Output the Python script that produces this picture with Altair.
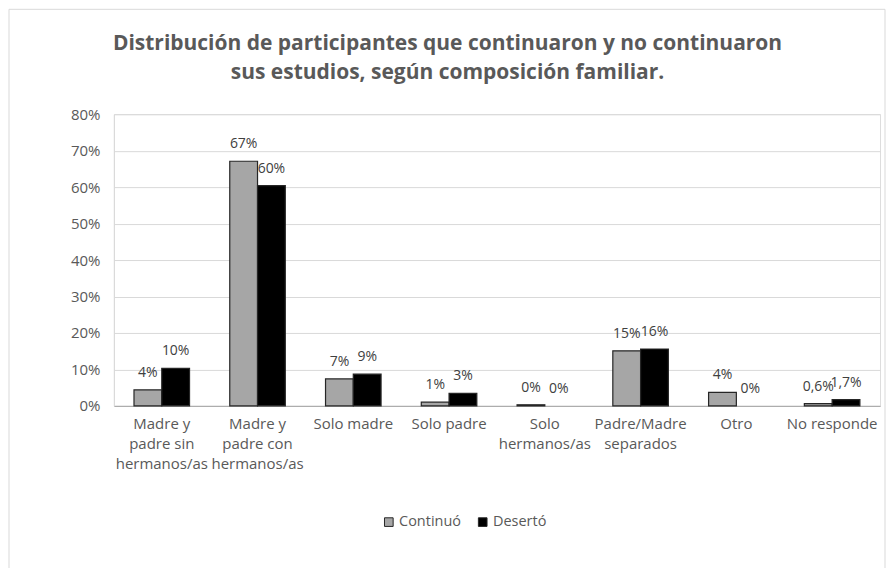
import altair as alt
import pandas as pd

categories = [
    "Madre y\npadre sin\nhermanos/as",
    "Madre y\npadre con\nhermanos/as",
    "Solo madre",
    "Solo padre",
    "Solo\nhermanos/as",
    "Padre/Madre\nseparados",
    "Otro",
    "No responde",
]
series = ["Continuó", "Desertó"]
continuo = [4.4, 67.1, 7.4, 1.0, 0.3, 15.1, 3.7, 0.6]
deserto = [10.3, 60.4, 8.7, 3.4, 0.0, 15.6, 0.0, 1.7]
continuo_labels = ["4%", "67%", "7%", "1%", "0%", "15%", "4%", "0,6%"]
deserto_labels = ["10%", "60%", "9%", "3%", "0%", "16%", "0%", "1,7%"]
y_ticks = [0, 0.1, 0.2, 0.3, 0.4, 0.5, 0.6, 0.7, 0.8]
title_lines = [
    "Distribución de participantes que continuaron y no continuaron",
    "sus estudios, según composición familiar.",
]

rows = []
for i, c in enumerate(categories):
    rows.append({"cat": c, "serie": series[0], "value": continuo[i] / 100, "label": continuo_labels[i]})
    rows.append({"cat": c, "serie": series[1], "value": deserto[i] / 100, "label": deserto_labels[i]})
df = pd.DataFrame(rows)

FONT = "Open Sans"
GREY = "#595959"
W, H = 767, 292

x_enc = alt.X(
    "cat:N",
    sort=categories,
    scale=alt.Scale(paddingInner=0.42, paddingOuter=0.21),
    axis=alt.Axis(
        title=None,
        labelAngle=0,
        labelExpr="split(datum.label, '\\n')",
        labelFont=FONT,
        labelFontSize=15,
        labelColor=GREY,
        labelLineHeight=20,
        labelPadding=11,
        labelBaseline="top",
        ticks=False,
        domainColor="#a6a6a6",
        domainWidth=1,
    ),
)
y_enc = alt.Y(
    "value:Q",
    scale=alt.Scale(domain=[0, 0.8], nice=False),
    axis=alt.Axis(
        title=None,
        values=y_ticks,
        format=".0%",
        labelFont=FONT,
        labelFontSize=15,
        labelColor=GREY,
        labelPadding=14,
        gridColor="#d9d9d9",
        ticks=False,
        domainColor="#d9d9d9",
    ),
)
xoff = alt.XOffset("serie:N", sort=series, scale=alt.Scale(paddingInner=0, paddingOuter=0))

base = alt.Chart(df)

bars = base.transform_filter("datum.value > 0").mark_bar(stroke="#262626", strokeWidth=1.2).encode(
    x=x_enc,
    y=y_enc,
    xOffset=xoff,
    color=alt.Color(
        "serie:N",
        sort=series,
        scale=alt.Scale(domain=series, range=["#a6a6a6", "#000000"]),
        legend=alt.Legend(
            title=None,
            orient="none",
            legendX=268,
            legendY=401,
            direction="horizontal",
            symbolType="square",
            symbolSize=75,
            symbolStrokeColor="#262626",
            symbolStrokeWidth=1,
            labelFont=FONT,
            labelFontSize=14.5,
            labelColor=GREY,
            labelOffset=3,
            columnPadding=14,
        ),
    ),
)

labels = base.mark_text(baseline="bottom", dy=-10, font=FONT, fontSize=14, color="#404040").encode(
    x=x_enc, y=y_enc, xOffset=xoff, text="label:N"
)

one = pd.DataFrame({"b": [0]})

border = alt.Chart(one).mark_rect(fillOpacity=0, stroke="#d9d9d9", strokeWidth=1).encode(
    x=alt.value(-105), x2=alt.value(772), y=alt.value(-105), y2=alt.value(458)
)

title_style = dict(font=FONT, fontSize=21, fontWeight="bold", color=GREY, align="center", baseline="alphabetic")
title1 = alt.Chart(one).mark_text(text=title_lines[0], **title_style).encode(
    x=alt.value(334), y=alt.value(-64)
)
title2 = alt.Chart(one).mark_text(text=title_lines[1], **title_style).encode(
    x=alt.value(334), y=alt.value(-35)
)

chart = (
    alt.layer(border, bars, labels, title1, title2)
    .properties(width=W, height=H, padding=0)
    .configure_view(strokeWidth=0)
    .configure(background="white")
)

chart.save("out.html", embed_options={"renderer": "svg", "actions": False})
